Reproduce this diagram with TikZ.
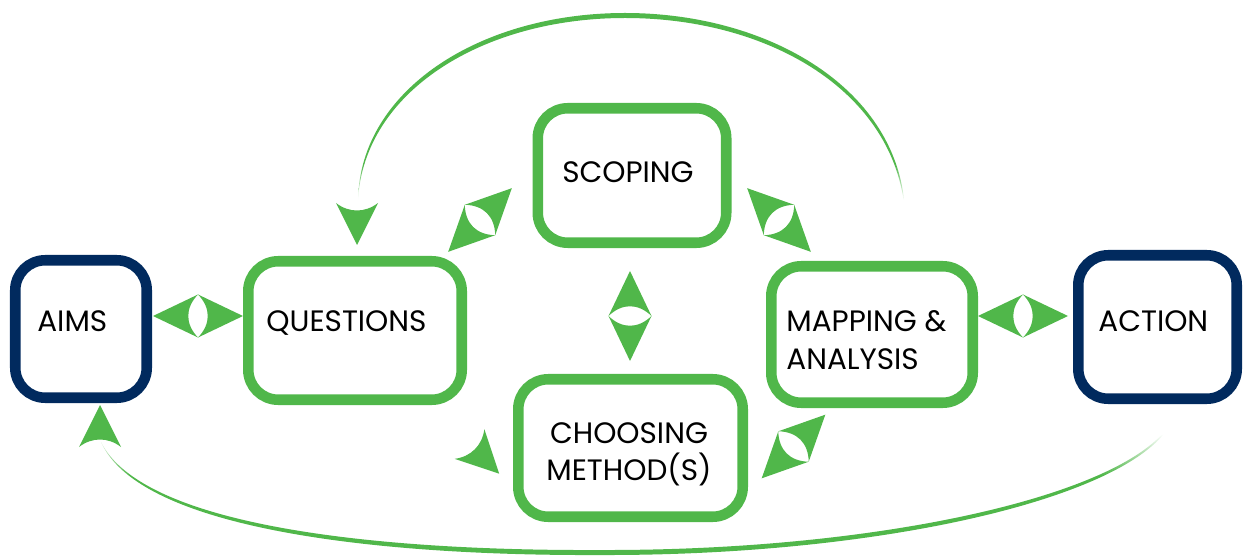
\documentclass[tikz,border=0pt]{standalone}
\usepackage{fontspec}
\setmainfont{Poppins}
\definecolor{leaf}{RGB}{80,183,74}
\definecolor{navy}{RGB}{1,42,94}
% loops fade out towards their loose ends
\pgfdeclareverticalshading{topfade}{100bp}{color(0bp)=(white); color(28bp)=(white); color(37bp)=(leaf); color(100bp)=(leaf)}
\pgfdeclareverticalshading{botfade}{100bp}{color(0bp)=(leaf); color(52bp)=(leaf); color(66bp)=(white); color(100bp)=(white)}
\tikzset{
  stepbox/.style={draw=leaf, line width=6pt, rounded corners=0.6cm, inner sep=0pt},
  endbox/.style={stepbox, draw=navy},
  lbl/.style={inner sep=0pt, font=\fontsize{16.8}{20}\selectfont},
  twoway/.pic={
    \fill[leaf] (-45,0) -- (0,-21.5) .. controls (-13,-8) and (-13,8) .. (0,21.5) -- cycle;
    \fill[leaf] (45,0) -- (0,-21.5) .. controls (13,-8) and (13,8) .. (0,21.5) -- cycle;
  },
  oneway/.pic={
    \fill[leaf] (42,0) -- (0,-21) .. controls (10,-8) and (10,8) .. (0,21) -- cycle;
  }
}

\begin{document}
\begin{tikzpicture}[x=0.02cm, y=-0.02cm]
    \useasboundingbox (0,0) rectangle (1243,560);
    % boxes
    \node[endbox, minimum width=2.63cm, minimum height=2.75cm] (aims) at (81,329) {};
    \node[stepbox, minimum width=4.27cm, minimum height=2.77cm] (questions) at (355,330.5) {};
    \node[stepbox, minimum width=3.77cm, minimum height=2.69cm] (scoping) at (632,175.5) {};
    \node[stepbox, minimum width=4.49cm, minimum height=2.75cm] (choosing) at (630.5,448) {};
    \node[stepbox, minimum width=4.03cm, minimum height=2.73cm] (mapping) at (872,334.5) {};
    \node[endbox, minimum width=3.17cm, minimum height=2.87cm] (action) at (1157.5,327) {};
    % labels
    \node[lbl, anchor=base west] (aimstext) at (37,332) {AIMS};
    \node[lbl, anchor=base west] (questext) at (266,332) {QUESTIONS};
    \node[lbl, anchor=base] (scopetext) at (628,182.5) {SCOPING};
    \node[lbl, anchor=base] (choosetext) at (629,443) {CHOOSING};
    \node[lbl, anchor=base] (methtext) at (629,480) {METHOD(S)};
    \node[lbl, anchor=base west] (maptext) at (786,332) {MAPPING \&};
    \node[lbl, anchor=base west] (anatext) at (786,369) {ANALYSIS};
    \node[lbl, anchor=base west] (acttext) at (1098,332) {ACTION};
    % loop ends
    \coordinate (looptop) at (357,203);
    \coordinate (loopbot) at (100,447);
    % feedback loops
    \shade[shading=topfade] (358,200) .. controls (360,90) and (480,13) .. (625,13)
      .. controls (770,13) and (900,90) .. (905,212)
      .. controls (895,92) and (770,18) .. (625,18)
      .. controls (482,18) and (364,92) .. (358,200) -- cycle;
    \shade[shading=botfade] (101,442) .. controls (140,530) and (380,556) .. (600,555)
      .. controls (900,556) and (1165,490) .. (1177,407)
      .. controls (1162,487) and (900,551) .. (600,550)
      .. controls (380,551) and (143,527) .. (101,442) -- cycle;
    \pic[rotate=-90] at (looptop) {oneway};
    \pic[rotate=90] at (loopbot) {oneway};
    % links between boxes
    \pic at (198,316) {twoway};
    \pic at (1023,316) {twoway};
    \pic[rotate=90] at (630,316) {twoway};
    \pic[rotate=45] at (480,220) {twoway};
    \pic[rotate=-45] at (779,220) {twoway};
    \pic[rotate=45] at (793.5,446.5) {twoway};
    \pic[rotate=-45] at (469.5,444) {oneway};
\end{tikzpicture}
\end{document}
